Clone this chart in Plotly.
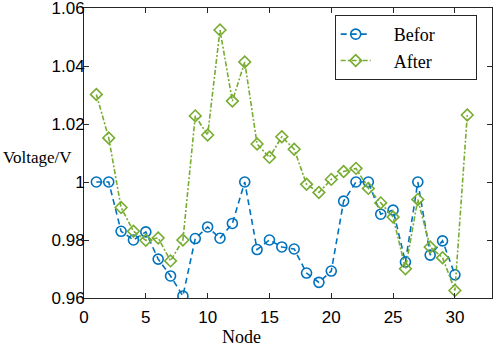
import plotly.graph_objects as go

nodes_before = list(range(1, 31))
before = [1.000, 1.000, 0.983, 0.980, 0.9828, 0.9734, 0.9676, 0.9607, 0.9805, 0.9845,
          0.9806, 0.9857, 1.000, 0.9767, 0.980, 0.9776, 0.9769, 0.9686, 0.9654, 0.9693,
          0.9934, 1.000, 1.000, 0.9889, 0.9903, 0.9724, 1.000, 0.9748, 0.9797, 0.968]
nodes_after = list(range(1, 32))
after = [1.0302, 1.0152, 0.9912, 0.983, 0.9799, 0.9807, 0.9728, 0.980, 1.0228, 1.0162,
         1.0524, 1.0279, 1.0414, 1.0131, 1.0085, 1.0156, 1.0113, 0.9992, 0.9964, 1.0009,
         1.0036, 1.0047, 0.9978, 0.9928, 0.9879, 0.9701, 0.9940, 0.9776, 0.9739, 0.9626,
         1.0231]
x_ticks = [0, 5, 10, 15, 20, 25, 30]
y_ticks = [0.96, 0.98, 1.00, 1.02, 1.04, 1.06]
y_tick_text = ["0.96", "0.98", "1", "1.02", "1.04", "1.06"]
series_names = ["Befor", "After"]

BLUE = "#0072BD"
GREEN = "#77AC30"
AXIS = "#262626"
SERIF = "Liberation Serif, Times New Roman, serif"
NB = "\u00a0"


def pad(name):
    return NB * 4 + name + NB * 8


fig = go.Figure()
fig.add_trace(go.Scatter(
    x=nodes_before, y=before, name=pad(series_names[0]), mode="lines+markers",
    line=dict(color=BLUE, width=1.6, dash="6px,4px"),
    marker=dict(symbol="circle-open", size=10, color=BLUE, line=dict(width=1.6)),
))
fig.add_trace(go.Scatter(
    x=nodes_after, y=after, name=pad(series_names[1]), mode="lines+markers",
    line=dict(color=GREEN, width=1.6, dash="5px,2px,2px,2px"),
    marker=dict(symbol="diamond-open", size=9, color=GREEN, line=dict(width=1.6)),
))

fig.update_layout(
    width=498, height=347,
    margin=dict(l=84, r=6, t=8, b=49, autoexpand=False),
    paper_bgcolor="white", plot_bgcolor="white",
    showlegend=True,
    legend=dict(
        x=0.9625, y=0.976, xanchor="right", yanchor="top",
        bordercolor=AXIS, borderwidth=1, bgcolor="white",
        font=dict(family=SERIF, size=18, color="black"),
        itemwidth=30,
    ),
    font=dict(family="Liberation Sans, Arial, sans-serif", size=16, color="black"),
)
fig.update_xaxes(
    range=[0, 33], tickvals=x_ticks, showgrid=False, zeroline=False, automargin=False,
    showline=True, linecolor=AXIS, linewidth=1, mirror="ticks",
    ticks="inside", ticklen=5, tickcolor=AXIS, ticklabeloverflow="allow",
    ticklabelstandoff=4,
    tickfont=dict(size=17, color="black"),
)
fig.update_yaxes(
    range=[0.96, 1.06], tickvals=y_ticks, ticktext=y_tick_text, showgrid=False, zeroline=False,
    automargin=False, ticklabeloverflow="allow", ticklabelstandoff=-5,
    showline=True, linecolor=AXIS, linewidth=1, mirror="ticks",
    ticks="inside", ticklen=5, tickcolor=AXIS,
    tickfont=dict(size=17, color="black"),
)
fig.add_annotation(
    xref="paper", yref="y", x=0, y=1.0086, xshift=-83, xanchor="left", yanchor="middle",
    text="Voltage/V", showarrow=False,
    font=dict(family=SERIF, size=17, color="black"),
)
fig.add_annotation(
    xref="x", yref="paper", x=12.7, y=0, yshift=-39, xanchor="center", yanchor="middle",
    text="Node", showarrow=False,
    font=dict(family=SERIF, size=18, color="black"),
)

fig.write_html("out.html", config={"displayModeBar": False},
               post_script="document.body.style.margin='0';document.body.style.overflow='hidden';")
